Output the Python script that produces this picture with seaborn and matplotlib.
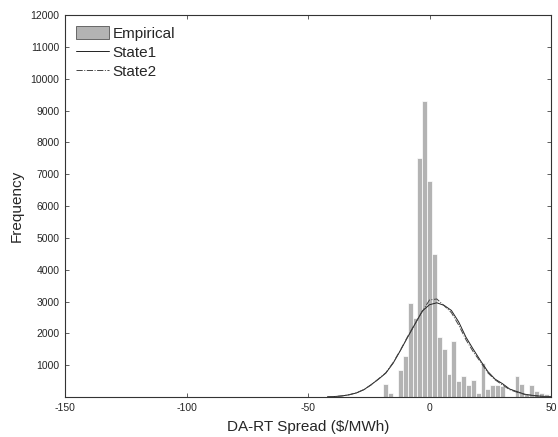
import numpy as np
import pandas as pd
import matplotlib
matplotlib.use("Agg")
import matplotlib.pyplot as plt
import seaborn as sns
from matplotlib.patches import Patch
from matplotlib.lines import Line2D

# Empirical histogram (bin centers, $/MWh) and counts
bin_centers = [-18, -16, -14, -12, -10, -8, -6, -4, -2, 0, 2, 4, 6, 8, 10, 12, 14, 16,
               18, 20, 22, 24, 26, 28, 30, 32, 34, 36, 38, 40, 42, 44, 46, 48, 50]
counts = [400, 120, 0, 850, 1290, 2950, 2480, 7500, 9300, 6800, 4500, 1870, 1520, 720,
          1760, 513, 660, 377, 524, 116, 1058, 262, 367, 390, 360, 0, 0, 670, 395, 110,
          370, 200, 140, 100, 60]

# fitted state curves
curve_x = [-42, -39, -36, -33, -30, -27, -24, -21, -18, -15, -12, -9, -6, -3, 0, 3, 6, 9,
           12, 15, 18, 21, 24, 27, 30, 33, 36, 39, 42, 45, 48, 50]
state1 = [5, 15, 35, 70, 130, 230, 390, 560, 750, 1060, 1460, 1880, 2290, 2700, 2900, 2960,
          2880, 2720, 2360, 1880, 1500, 1140, 800, 560, 420, 250, 170, 90, 55, 30, 15, 10]
state2 = [5, 15, 35, 75, 135, 235, 380, 570, 760, 1080, 1470, 1900, 2300, 2680, 3050, 3080,
          2870, 2650, 2260, 1800, 1420, 1100, 760, 540, 380, 230, 150, 85, 50, 28, 14, 9]

x_ticks = [-150, -100, -50, 0, 50]
y_ticks = [1000, 2000, 3000, 4000, 5000, 6000, 7000, 8000, 9000, 10000, 11000, 12000]

hist_df = pd.DataFrame({"spread": bin_centers, "count": counts})

sns.set_style("ticks")
plt.rcParams["font.family"] = ["Liberation Sans", "DejaVu Sans"]
plt.rcParams["xtick.direction"] = "in"
plt.rcParams["ytick.direction"] = "in"

fig = plt.figure(figsize=(5.58, 4.37), dpi=100)
ax = fig.add_axes([0.1165, 0.0915, 0.871, 0.874])

bar_color = "#b3b3b3"
sns.histplot(data=hist_df, x="spread", weights="count", binwidth=2, binrange=(-19, 51),
             color=bar_color, alpha=1, edgecolor="white", linewidth=0.5, ax=ax)

sns.lineplot(x=curve_x, y=state1, color="#222222", linewidth=0.7, ax=ax)
sns.lineplot(x=curve_x, y=state2, color="#444444", linewidth=0.7, linestyle="-.", ax=ax)

ax.set_xlim(-150, 50)
ax.set_ylim(0, 12000)
ax.set_xticks(x_ticks)
ax.set_xticklabels([str(v) for v in x_ticks])
ax.set_yticks(y_ticks)
ax.set_yticklabels([str(v) for v in y_ticks])
ax.tick_params(axis="both", labelsize=7.5, length=3, width=0.6, color="#444444",
               top=True, right=True, direction="in", pad=4)
for s in ax.spines.values():
    s.set_linewidth(0.8)
    s.set_color("#333333")

ax.set_xlabel("DA-RT Spread ($/MWh)", fontsize=11, labelpad=5)
ax.set_ylabel("Frequency", fontsize=11, labelpad=5)

handles = [Patch(facecolor=bar_color, edgecolor="#555555", linewidth=0.6),
           Line2D([], [], color="#222222", linewidth=0.7),
           Line2D([], [], color="#444444", linewidth=0.7, linestyle="-.")]
ax.legend(handles, ["Empirical", "State1", "State2"], loc="upper left", frameon=False,
          fontsize=11, handlelength=2.2, handleheight=1.0, handletextpad=0.2,
          labelspacing=0.25, borderaxespad=0.5, borderpad=0.2)

fig.savefig("out.png", dpi=100)
